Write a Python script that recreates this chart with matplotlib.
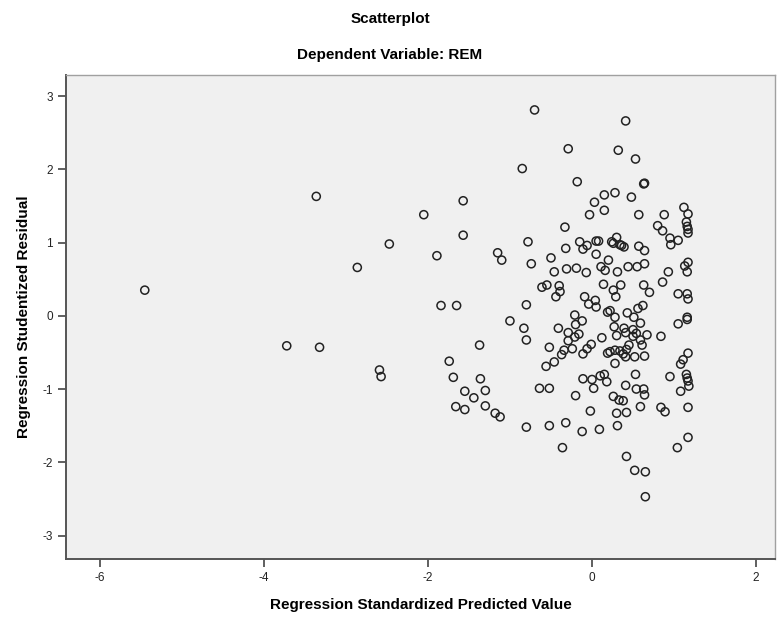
import matplotlib
matplotlib.use("Agg")
import matplotlib.pyplot as plt

plt.rcParams["font.family"] = ["Liberation Sans", "DejaVu Sans"]
plt.rcParams["axes.unicode_minus"] = False

# regression standardized predicted value (x) and studentized residual (y)
pred = [
    -5.45, -3.36, -3.72, -3.32, -2.05, -1.57, -1.57, -2.47, -1.89, -2.86,
    -1.15, -1.10, -1.84, -1.65, -2.59, -2.57, -1.37, -1.74, -1.69, -1.36,
    -1.55, -1.44, -1.30, -1.66, -1.55, -1.30, -1.18, -1.12,
    -0.70, 0.41, -0.29, 0.32, -0.85, -0.18, 0.15, 0.28, 0.03, 0.15,
    -0.03, 0.48, -0.33, -0.78, -0.32, -0.15, -0.06, 0.05, 0.08, 0.24,
    0.30, 0.36, 0.53, 0.63, 0.64, 0.57, 0.88, 1.12, 1.17, 1.15,
    1.16, 1.17, 1.17, 0.80, 0.86, 0.95, 1.05, 0.96, 0.26, 0.57, 0.64,
    -0.74, -0.50, -0.11, 0.05, 0.34, 0.39, 0.20, 0.44, 0.55, 0.64,
    -0.46, -0.31, -0.19, -0.07, 0.11, 0.16, 0.31, 0.93, 0.86, 1.13,
    1.17, 1.16, 0.63, 0.70, 1.05, 1.16, 1.17, -0.61, -0.55, -0.40,
    -0.39, -0.44, 0.14, 0.26, 0.35, 0.29, -0.09, -0.04, 0.04, 0.05,
    -0.80, -1.00, -0.83, -0.80, -0.41, -0.21, -0.12, -0.20, -0.29, -0.16,
    -0.21, -0.29, -0.24, -0.34, -0.37, -0.52, -0.46, -0.56, 0.19, 0.22,
    0.28, 0.43, 0.51, 0.56, 0.62, 0.59, 0.27, 0.30, 0.39, 0.41,
    0.50, 0.50, 0.54, 0.59, 0.61, 0.67, 0.84, 1.05, 1.16, 1.16,
    -0.11, -0.06, -0.01, 0.12, 0.19, 0.28, 0.28, 0.34, 0.38, 0.42,
    0.41, 0.45, 0.22, 0.52, 0.64, 1.17, 1.11, 1.08, 0.95, 1.15,
    1.16, 1.17, 1.18, 0.53,
    -0.64, -0.52, -0.20, -0.11, 0.00, 0.02, 0.10, 0.15, 0.18, 0.41,
    0.26, 0.33, 0.38, 0.54, 0.63, 0.64, 1.08, -0.02, 0.30, 0.42,
    0.31, 0.09, -0.12, -0.32, -0.52, -0.80, -0.36, 0.42, 0.59, 0.84,
    0.89, 1.17, 1.17, 1.04, 0.52, 0.65, 0.65,
]
resid = [
    0.35, 1.63, -0.41, -0.43, 1.38, 1.57, 1.10, 0.98, 0.82, 0.66,
    0.86, 0.76, 0.14, 0.14, -0.74, -0.83, -0.40, -0.62, -0.84, -0.86,
    -1.03, -1.12, -1.02, -1.24, -1.28, -1.23, -1.33, -1.38,
    2.81, 2.66, 2.28, 2.26, 2.01, 1.83, 1.65, 1.68, 1.55, 1.44,
    1.38, 1.62, 1.21, 1.01, 0.92, 1.01, 0.96, 1.02, 1.02, 1.01,
    1.07, 0.96, 2.14, 1.80, 1.81, 1.38, 1.38, 1.48, 1.39, 1.28,
    1.22, 1.18, 1.13, 1.23, 1.16, 1.06, 1.03, 0.97, 0.99, 0.95, 0.89,
    0.71, 0.79, 0.91, 0.84, 0.97, 0.94, 0.76, 0.67, 0.67, 0.71,
    0.60, 0.64, 0.65, 0.59, 0.67, 0.62, 0.60, 0.60, 0.46, 0.68,
    0.73, 0.60, 0.42, 0.32, 0.30, 0.30, 0.23, 0.39, 0.42, 0.41,
    0.33, 0.26, 0.43, 0.35, 0.42, 0.26, 0.26, 0.16, 0.21, 0.12,
    0.15, -0.07, -0.17, -0.33, -0.17, 0.01, -0.07, -0.12, -0.23, -0.25,
    -0.29, -0.34, -0.45, -0.47, -0.53, -0.43, -0.63, -0.69, 0.05, 0.07,
    -0.02, 0.04, -0.02, 0.10, 0.14, -0.10, -0.15, -0.27, -0.17, -0.23,
    -0.19, -0.28, -0.24, -0.33, -0.40, -0.26, -0.28, -0.11, -0.02, -0.05,
    -0.52, -0.45, -0.39, -0.30, -0.51, -0.47, -0.65, -0.48, -0.52, -0.46,
    -0.56, -0.40, -0.49, -0.56, -0.55, -0.51, -0.60, -0.66, -0.83, -0.80,
    -0.85, -0.89, -0.96, -0.80,
    -0.99, -0.99, -1.09, -0.86, -0.87, -0.99, -0.82, -0.80, -0.90, -0.95,
    -1.10, -1.15, -1.16, -1.00, -1.00, -1.08, -1.03, -1.30, -1.33, -1.32,
    -1.50, -1.55, -1.58, -1.46, -1.50, -1.52, -1.80, -1.92, -1.24, -1.25,
    -1.31, -1.25, -1.66, -1.80, -2.11, -2.13, -2.47,
]

x_ticks = [-6, -4, -2, 0, 2]
y_ticks = [-3, -2, -1, 0, 1, 2, 3]

fig = plt.figure(figsize=(7.8, 6.2), dpi=100)
ax = fig.add_axes([0.0846, 0.0984, 0.909, 0.781])
ax.set_facecolor("#f0f0f0")

ax.scatter(pred, resid, s=34, facecolors="none", edgecolors="#222222",
           linewidths=1.1, zorder=3)

ax.set_xlim(-6.41, 2.23)
ax.set_ylim(-3.32, 3.29)
ax.set_xticks(x_ticks)
ax.set_yticks(y_ticks)
ax.tick_params(axis="both", direction="out", length=6, width=1.2,
               color="#444444", labelsize=8.5, labelcolor="#222222")

for side in ("left", "bottom"):
    ax.spines[side].set_color("#555555")
    ax.spines[side].set_linewidth(1.4)
for side in ("top", "right"):
    ax.spines[side].set_color("#a0a0a0")
    ax.spines[side].set_linewidth(1.0)

ax.set_xlabel("Regression Standardized Predicted Value", fontsize=11,
              fontweight="bold", labelpad=10)
ax.set_ylabel("Regression Studentized Residual", fontsize=11,
              fontweight="bold", labelpad=8)

fig.text(0.5, 0.969, "Scatterplot", ha="center", va="center",
         fontsize=11, fontweight="bold")
fig.text(0.5, 0.912, "Dependent Variable: REM", ha="center", va="center",
         fontsize=11, fontweight="bold")

fig.savefig("out.png", dpi=100)
